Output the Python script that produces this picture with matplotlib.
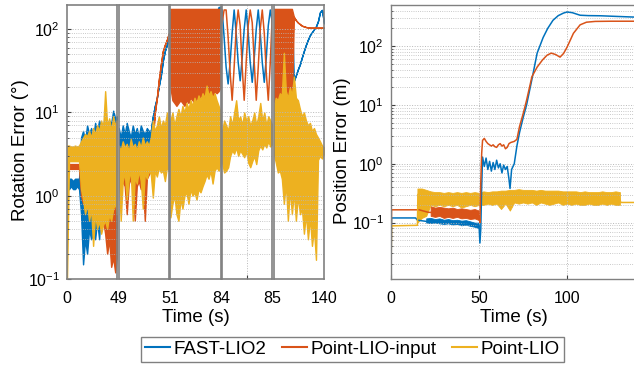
import matplotlib

matplotlib.use("Agg")

import matplotlib.pyplot as plt
import numpy as np
from matplotlib.lines import Line2D

plt.rcParams["font.family"] = ["Liberation Sans", "DejaVu Sans"]

BLUE = "#0072BD"
ORANGE = "#D95319"
YELLOW = "#EDB120"
SPINE = "#808080"
GRID = "#b8b8b8"

# ---- rotation error: five time windows drawn side by side ----
segments = [(0, 49), (49, 51), (51, 84), (84, 85), (85, 140)]
seg_labels = ["0", "49", "51", "84", "85", "140"]

# each window: upper / lower envelope of the noisy trace (None = plain line)
rot_fast_hi = [
    [1.6, 1.6, 1.6, 1.5, 1.6, 1.6, 1.6, 5.0, 6.0, 4.5, 7.0, 5.5, 6.5, 5.0, 7.5, 6.0, 8.0, 6.5, 7.0, 9.0, 6.0, 8.0, 7.5, 10.5, 8.5, 9.0],
    [6.5, 5.0, 7.0, 5.5, 7.5, 6.0, 5.0, 7.0, 5.5, 6.5, 5.0, 7.0, 6.0, 5.5, 6.5, 6.0, 6.0, 9, 12, 15, 21, 28, 42, 55, 65, 80],
    [160] * 24 + [185, 185],
    [170, 80, 35, 22, 40, 90, 170, 90, 40, 24, 45, 100, 170, 90, 40, 23, 45, 100, 170, 90, 40, 23, 45, 110, 170, 120],
    [160] * 10 + [24, 28, 33, 38, 46, 55, 65, 75, 85, 92, 100, 108, 125, 160, 170, 118],
]
rot_fast_lo = [
    [1.2, 1.2, 1.3, 1.2, 1.2, 1.3, 1.2, 0.6, 0.15, 0.3, 0.2, 0.4, 0.3, 0.35, 0.3, 0.5, 0.3, 0.8, 1.0, 1.5, 2.0, 2.5, 3.0, 2.5, 3.0, 3.5],
    [3.0, 2.5, 3.5, 2.8, 3.2, 2.6, 3.0, 2.8, 3.4, 2.7, 3.0, 3.3, 2.9, 3.1, 3.5, 4.0, 6.0, 9, 12, 15, 21, 28, 42, 55, 65, 80],
    [30] * 26,
    None,
    [30] * 9 + [22, 24, 28, 33, 38, 46, 55, 65, 75, 85, 92, 100, 108, 125, 160, 170, 118],
]

rot_input_hi = [
    [2.4, 2.4, 2.4, 2.4, 2.4, 2.4, 2.4, 3.0, 3.5, 3.0, 4.0, 3.5, 4.0, 3.0, 4.0, 3.5, 4.0, 3.0, 4.0, 3.5, 4.0, 3.0, 4.0, 3.5, 4.0, 3.5],
    [3.0, 3.5, 3.0, 3.5, 3.0, 3.5, 3.0, 3.5, 3.0, 3.5, 3.0, 3.5, 3.0, 3.5, 3.0, 3.0, 3.0, 5, 10, 15, 25, 38, 55, 65, 75, 90],
    [175] * 26,
    [120, 170, 170, 80, 30, 14, 35, 100, 170, 110, 35, 14, 40, 110, 170, 120, 40, 14, 35, 100, 170, 90, 30, 14, 40, 150],
    [175] * 10 + [140, 128, 120, 115, 110, 108, 106, 105, 104, 104, 104, 104, 104, 104, 104, 104],
]
rot_input_lo = [
    [2.1, 2.1, 2.1, 2.1, 2.1, 2.1, 2.1, 1.0, 0.8, 1.0, 0.9, 1.0, 0.8, 1.0, 0.9, 1.0, 0.8, 0.7, 0.5, 0.35, 0.2, 0.3, 0.14, 0.18, 0.12, 0.2],
    [1.5, 1.2, 1.5, 1.3, 0.6, 1.4, 1.6, 1.2, 0.5, 1.3, 1.5, 1.2, 1.4, 0.5, 1.6, 1.8, 3.0, 5, 10, 15, 25, 38, 55, 65, 75, 90],
    [20, 14, 13, 12, 13, 14, 13, 12, 14, 13, 15, 14, 13, 15, 14, 16, 15, 14, 16, 15, 17, 16, 18, 17, 18, 20],
    None,
    [14, 12, 13, 12, 14, 13, 12, 13, 14, 13, 140, 128, 120, 115, 110, 108, 106, 105, 104, 104, 104, 104, 104, 104, 104, 104],
]

rot_point_hi = [
    [4.0, 4.0, 3.9, 3.9, 4.0, 3.9, 4.0, 4.5, 5.0, 5.5, 5.2, 6.0, 5.0, 6.5, 5.5, 7.0, 6.0, 8.0, 6.5, 18.0, 7.0, 8.5, 6.0, 9.0, 7.0, 8.0],
    [4.0, 3.5, 4.5, 3.8, 4.2, 3.4, 4.8, 3.8, 4.2, 3.5, 4.5, 3.8, 5.0, 4.0, 4.5, 4.0, 5.0, 8.0, 6.0, 7.0, 9.0, 6.5, 8.0, 7.0, 10.0, 8.0],
    [8, 10, 7, 9, 11, 9, 12, 10, 13, 11, 14, 12, 15, 13, 16, 14, 17, 15, 21, 16, 18, 15, 17, 14, 12, 10],
    [6, 8, 7, 6, 9, 7, 10, 14, 8, 9, 7, 10, 8, 9, 7, 8, 10, 7, 9, 13, 8, 10, 7, 9, 8, 7],
    [12, 15, 14, 17, 16, 52, 18, 15, 20, 16, 27, 15, 14, 11, 9, 10, 8, 7, 7.5, 6, 6.5, 5.5, 5, 4.5, 4.0, 3.8],
]
rot_point_lo = [
    [0.1, 2.6, 2.6, 2.6, 2.6, 2.6, 2.6, 1.2, 0.9, 0.6, 0.8, 0.5, 0.7, 0.25, 0.6, 0.4, 0.5, 0.35, 0.45, 0.5, 0.4, 0.6, 0.5, 0.7, 0.8, 0.6],
    [1.8, 0.5, 1.5, 1.9, 0.9, 1.6, 2.0, 0.5, 1.7, 1.4, 2.0, 1.5, 0.7, 1.9, 1.6, 2.0, 1.8, 0.95, 2.0, 1.7, 2.2, 1.9, 2.0, 1.5, 2.2, 2.0],
    [0.55, 0.8, 1.0, 0.6, 0.5, 0.9, 0.7, 1.0, 1.1, 0.8, 1.2, 1.0, 1.1, 0.9, 1.2, 1.1, 1.3, 1.5, 1.8, 1.6, 2.0, 1.4, 2.0, 2.2, 2.0, 2.5],
    [2.5, 1.9, 2.0, 2.2, 3.0, 3.5, 3.2, 3.8, 3.0, 3.5, 3.2, 2.9, 3.4, 2.5, 2.2, 2.6, 3.0, 2.4, 3.5, 4.0, 3.6, 4.2, 3.8, 4.5, 3.9, 4.2],
    [3.2, 2.5, 1.9, 2.0, 1.6, 0.8, 1.4, 0.5, 1.2, 0.6, 1.1, 0.5, 1.0, 0.6, 0.7, 0.35, 0.6, 0.3, 0.55, 0.25, 0.4, 0.17, 2.7, 3.0, 2.8, 3.2],
]

# ---- position error ----
pos_fast_t = [0, 0.3, 14, 15, 20, 30, 40, 48, 50, 50.5, 51, 51.5, 52, 53, 54, 55, 56, 57, 58, 59,
              60, 61, 62, 63, 64, 65, 66, 67, 67.6, 68.5, 70, 71.5, 73, 75, 77, 80, 83, 86.4, 89, 92,
              95, 98, 100, 103, 107.4, 112, 119, 128, 137.6, 140]
pos_fast = [0.011, 0.12, 0.12, 0.11, 0.105, 0.105, 0.1, 0.095, 0.09, 0.045, 0.08, 0.4, 1.3, 0.9, 1.25, 0.8, 1.1, 0.75, 1.05, 0.8,
            1.15, 0.85, 1.0, 0.7, 0.95, 0.8, 0.9, 0.55, 0.38, 0.8, 1.0, 2.0, 3.4, 6.0, 10, 27, 76, 140, 200, 275,
            330, 365, 380, 370, 335, 330, 328, 320, 312, 312]
pos_fast_band_t = [20, 22.5, 25, 27.5, 30, 32.5, 35, 37.5, 40, 42.5, 45, 47.5, 50]
pos_fast_band_hi = [0.118, 0.12, 0.115, 0.118, 0.112, 0.115, 0.11, 0.112, 0.108, 0.11, 0.105, 0.1, 0.1]
pos_fast_band_lo = [0.1, 0.098, 0.1, 0.097, 0.095, 0.097, 0.093, 0.095, 0.09, 0.092, 0.088, 0.085, 0.08]

pos_input_t = [0, 0.3, 15, 16, 21, 30, 40, 50, 50.5, 51, 51.5, 52, 53, 54, 55, 56, 57, 58, 59, 60,
               61, 62, 63, 64, 65, 66, 67, 68, 70, 71.5, 73, 75, 77, 79, 80, 83, 86, 88.6, 91, 93.5,
               96, 98, 100, 103.6, 107.4, 111, 116, 125, 140]
pos_input = [0.011, 0.165, 0.165, 0.165, 0.15, 0.145, 0.14, 0.13, 0.1, 0.5, 1.5, 2.5, 2.7, 2.4, 2.2, 2.1, 2.0, 2.1, 1.95, 1.9,
             2.1, 2.2, 2.0, 2.1, 1.8, 1.9, 2.2, 2.3, 2.4, 2.6, 4.3, 7.0, 12, 22, 30, 44, 58, 70, 76, 72,
             65, 75, 96, 165, 230, 255, 263, 265, 265]
pos_input_band_t = [22.5, 25, 27.5, 30, 32.5, 35, 37.5, 40, 42.5, 45, 47.5, 50]
pos_input_band_hi = [0.19, 0.18, 0.185, 0.18, 0.175, 0.18, 0.17, 0.175, 0.17, 0.165, 0.17, 0.16]
pos_input_band_lo = [0.13, 0.125, 0.13, 0.12, 0.125, 0.12, 0.125, 0.118, 0.12, 0.115, 0.118, 0.11]

pos_point_t = [0, 0.3, 15, 15.3]
pos_point = [0.011, 0.088, 0.09, 0.3]
pos_point_end_t = [130, 130.5, 140]
pos_point_end = [0.25, 0.22, 0.22]
pos_point_band_t = [15, 17.5, 20, 22.5, 25, 27.5, 30, 32.5, 35, 37.5, 40, 42.5, 45, 47.5, 50, 52.5,
                    55, 57.5, 60, 62.5, 65, 67.5, 70, 72.5, 75, 77.5, 80, 82.5, 85, 87.5, 90, 92.5,
                    95, 97.5, 100, 102.5, 105, 107.5, 110, 112.5, 115, 117.5, 120, 122.5, 125, 127.5, 130]
pos_point_band_hi = [0.38, 0.38, 0.36, 0.34, 0.33, 0.33, 0.32, 0.33, 0.32, 0.33, 0.32, 0.33, 0.32, 0.33, 0.32, 0.34,
                     0.33, 0.34, 0.34, 0.35, 0.35, 0.36, 0.36, 0.37, 0.36, 0.36, 0.36, 0.35, 0.36, 0.35, 0.35, 0.35,
                     0.35, 0.34, 0.34, 0.34, 0.34, 0.33, 0.34, 0.33, 0.33, 0.33, 0.34, 0.33, 0.33, 0.34, 0.33]
pos_point_band_lo = [0.1, 0.12, 0.13, 0.2, 0.19, 0.2, 0.19, 0.2, 0.19, 0.2, 0.18, 0.19, 0.2, 0.19, 0.2, 0.2,
                     0.21, 0.2, 0.21, 0.17, 0.21, 0.16, 0.22, 0.21, 0.22, 0.21, 0.22, 0.2, 0.22, 0.21, 0.2, 0.21,
                     0.22, 0.2, 0.21, 0.2, 0.21, 0.2, 0.2, 0.21, 0.2, 0.2, 0.21, 0.2, 0.21, 0.2, 0.2]

series_labels = ["FAST-LIO2", "Point-LIO-input", "Point-LIO"]

W, H = 634, 368
fig = plt.figure(figsize=(W / 100, H / 100), dpi=100)


def px_axes(x0, x1, y0, y1):
    return fig.add_axes([x0 / W, 1 - y1 / H, (x1 - x0) / W, (y1 - y0) / H])


def trace(ax, t0, t1, hi, lo, color):
    t = np.linspace(t0, t1, len(hi))
    if lo is None:
        ax.plot(t, hi, color=color, lw=1.1)
    else:
        ax.fill_between(t, lo, hi, color=color, lw=1.0)


def style(ax, spine_lw=1.0):
    for s in ax.spines.values():
        s.set_color(SPINE)
        s.set_linewidth(spine_lw)
    ax.tick_params(which="both", direction="in", colors="#404040", labelcolor="black", labelsize=11.5)
    ax.tick_params(which="major", length=3)
    ax.tick_params(which="minor", length=1.5)
    ax.grid(True, which="major", axis="y", ls=":", color=GRID, lw=0.7)
    ax.grid(True, which="minor", axis="y", ls=":", color=GRID, lw=0.6)


# left block
left, right, top, bottom = 67, 324, 5, 279
gap = 1.5
pw = (right - left - gap * 4) / 5
for k, (t0, t1) in enumerate(segments):
    x0 = left + k * (pw + gap)
    ax = px_axes(x0, x0 + pw, top, bottom)
    ax.set_yscale("log")
    ax.set_xlim(t0, t1)
    ax.set_ylim(0.1, 195)
    trace(ax, t0, t1, rot_fast_hi[k], rot_fast_lo[k], BLUE)
    trace(ax, t0, t1, rot_input_hi[k], rot_input_lo[k], ORANGE)
    trace(ax, t0, t1, rot_point_hi[k], rot_point_lo[k], YELLOW)
    style(ax, 1.2)
    if k == 3:
        ax.set_xticks([(t0 + t1) / 2])
        ax.grid(True, axis="x", ls=":", color=GRID, lw=0.7)
    else:
        ax.set_xticks([])
    ax.tick_params(axis="x", labelbottom=False)
    if k > 0:
        ax.tick_params(axis="y", which="both", left=False, labelleft=False)
    else:
        ax.tick_params(axis="y", pad=5)

ov = px_axes(left, right, top, bottom)
ov.patch.set_visible(False)
for s in ov.spines.values():
    s.set_visible(False)
ov.set_xlim(0, 5)
ov.set_xticks(range(6), seg_labels)
ov.set_yticks([])
ov.tick_params(axis="x", length=0, pad=8.5, labelsize=11.5)
ov.set_xlabel("Time (s)", fontsize=13.5)
ov.xaxis.set_label_coords(0.5, -0.11)
ov.set_ylabel("Rotation Error (°)", fontsize=13.5)
ov.yaxis.set_label_coords(-0.148, 0.47)

# right plot
ax2 = px_axes(391, 637.5, top, bottom)
ax2.set_yscale("log")
ax2.plot(pos_fast_t, pos_fast, color=BLUE, lw=1.1)
ax2.fill_between(pos_fast_band_t, pos_fast_band_lo, pos_fast_band_hi, color=BLUE, lw=0.6)
ax2.plot(pos_input_t, pos_input, color=ORANGE, lw=1.1)
ax2.fill_between(pos_input_band_t, pos_input_band_lo, pos_input_band_hi, color=ORANGE, lw=0.6)
ax2.plot(pos_point_t, pos_point, color=YELLOW, lw=1.1)
ax2.fill_between(pos_point_band_t, pos_point_band_lo, pos_point_band_hi, color=YELLOW, lw=0.6)
ax2.plot(pos_point_end_t, pos_point_end, color=YELLOW, lw=1.1)
ax2.set_xlim(0, 140)
ax2.set_ylim(0.011, 500)
ax2.set_xticks([0, 50, 100])
style(ax2)
ax2.grid(True, which="major", axis="x", ls=":", color=GRID, lw=0.7)
ax2.tick_params(axis="x", pad=8.5)
ax2.tick_params(axis="y", pad=5)
ax2.set_xlabel("Time (s)", fontsize=13.5)
ax2.xaxis.set_label_coords(0.5, -0.11)
ax2.set_ylabel("Position Error (m)", fontsize=13.5)
ax2.yaxis.set_label_coords(-0.162, 0.47)

handles = [Line2D([], [], color=c, lw=1.5) for c in (BLUE, ORANGE, YELLOW)]
fig.legend(handles, series_labels, loc="center", bbox_to_anchor=(0.556, 0.0503), ncol=3,
           fontsize=13.5, frameon=True, fancybox=False, edgecolor=SPINE, framealpha=1,
           handlelength=1.35, handletextpad=0.2, columnspacing=0.8, borderpad=0.2,
           borderaxespad=0)

fig.savefig("out.png", dpi=100)
